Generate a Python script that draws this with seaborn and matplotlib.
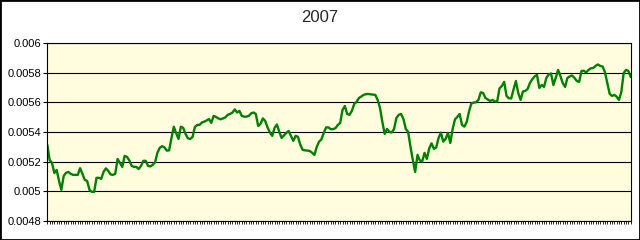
import numpy as np
import pandas as pd
import seaborn as sns
import matplotlib
matplotlib.use("Agg")
import matplotlib.pyplot as plt
from matplotlib.patches import Rectangle

sns.set_style("white")
plt.rcParams['font.family'] = ['Liberation Sans', 'DejaVu Sans']

title = "2007"
ytick_values = [0.0048, 0.005, 0.0052, 0.0054, 0.0056, 0.0058, 0.006]
ytick_labels = ["0.0048", "0.005", "0.0052", "0.0054", "0.0056", "0.0058", "0.006"]

rates = [
    0.005313, 0.005211, 0.005191, 0.005123, 0.005143, 0.005070, 0.005009, 0.005103, 0.005124, 0.005130,
    0.005117, 0.005110, 0.005110, 0.005110, 0.005155, 0.005117, 0.005076, 0.005069, 0.005009, 0.004995,
    0.004995, 0.005090, 0.005090, 0.005083, 0.005130, 0.005154, 0.005137, 0.005113, 0.005110, 0.005117,
    0.005218, 0.005191, 0.005164, 0.005238, 0.005232, 0.005208, 0.005171, 0.005164, 0.005164, 0.005150,
    0.005171, 0.005205, 0.005205, 0.005171, 0.005167, 0.005178, 0.005195, 0.005259, 0.005293, 0.005304,
    0.005296, 0.005274, 0.005276, 0.005360, 0.005436, 0.005391, 0.005353, 0.005436, 0.005428, 0.005387,
    0.005357, 0.005353, 0.005367, 0.005434, 0.005448, 0.005448, 0.005465, 0.005470, 0.005478, 0.005488,
    0.005462, 0.005509, 0.005502, 0.005492, 0.005486, 0.005492, 0.005499, 0.005516, 0.005522, 0.005531,
    0.005553, 0.005532, 0.005543, 0.005509, 0.005504, 0.005504, 0.005509, 0.005526, 0.005532, 0.005522,
    0.005441, 0.005455, 0.005492, 0.005475, 0.005431, 0.005396, 0.005374, 0.005428, 0.005451, 0.005401,
    0.005360, 0.005377, 0.005394, 0.005407, 0.005374, 0.005340, 0.005374, 0.005367, 0.005313, 0.005279,
    0.005276, 0.005274, 0.005272, 0.005260, 0.005245, 0.005299, 0.005335, 0.005350, 0.005394, 0.005431,
    0.005431, 0.005419, 0.005419, 0.005426, 0.005448, 0.005461, 0.005549, 0.005576, 0.005522, 0.005516,
    0.005543, 0.005590, 0.005604, 0.005630, 0.005640, 0.005651, 0.005656, 0.005657, 0.005655, 0.005653,
    0.005651, 0.005617, 0.005563, 0.005468, 0.005387, 0.005421, 0.005401, 0.005397, 0.005421, 0.005495,
    0.005516, 0.005522, 0.005488, 0.005421, 0.005401, 0.005301, 0.005211, 0.005130, 0.005245, 0.005208,
    0.005200, 0.005259, 0.005218, 0.005289, 0.005323, 0.005286, 0.005296, 0.005360, 0.005396, 0.005335,
    0.005353, 0.005394, 0.005326, 0.005421, 0.005485, 0.005502, 0.005522, 0.005448, 0.005436, 0.005468,
    0.005539, 0.005593, 0.005599, 0.005601, 0.005617, 0.005668, 0.005664, 0.005630, 0.005620, 0.005610,
    0.005617, 0.005607, 0.005605, 0.005695, 0.005711, 0.005739, 0.005644, 0.005628, 0.005627, 0.005688,
    0.005745, 0.005664, 0.005617, 0.005674, 0.005678, 0.005691, 0.005732, 0.005757, 0.005776, 0.005786,
    0.005698, 0.005718, 0.005705, 0.005766, 0.005789, 0.005796, 0.005718, 0.005766, 0.005820, 0.005779,
    0.005730, 0.005705, 0.005766, 0.005776, 0.005782, 0.005766, 0.005745, 0.005739, 0.005813, 0.005814,
    0.005803, 0.005820, 0.005831, 0.005833, 0.005847, 0.005857, 0.005847, 0.005843, 0.005806, 0.005732,
    0.005659, 0.005644, 0.005651, 0.005639, 0.005617, 0.005671, 0.005799, 0.005820, 0.005813, 0.005772,
]

df = pd.DataFrame({"day": np.arange(len(rates)), "rate": rates})

fig = plt.figure(figsize=(6.4, 2.4), dpi=100)
ax = fig.add_axes([47.3 / 640, 19.3 / 240, 583.4 / 640, 177.4 / 240])
ax.set_facecolor("#FFFDDE")
ax.set_axisbelow(True)
sns.lineplot(data=df, x="day", y="rate", ax=ax, color="#008000", linewidth=1.7)
ax.set_xlim(0, len(rates) - 1)
ax.set_ylim(ytick_values[0], ytick_values[-1])
ax.set_yticks(ytick_values)
ax.set_yticklabels(ytick_labels)
ax.set_xticks(df["day"])
ax.set_xticklabels([])
ax.grid(axis="y", color="black", linewidth=0.8)
ax.grid(axis="x", visible=False)
ax.tick_params(axis="y", direction="out", length=3, width=0.8, pad=1.5,
               labelsize=8, left=True, colors="black")
ax.tick_params(axis="x", direction="out", length=2.5, width=0.6, bottom=True, colors="black")
for s in ax.spines.values():
    s.set_visible(True)
    s.set_color("black")
    s.set_linewidth(0.8)
ax.set_xlabel("")
ax.set_ylabel("")
fig.text(0.5, 1 - 17 / 240, title, ha="center", va="center", fontsize=12)
fig.patches.append(Rectangle((0, 0), 1, 1, transform=fig.transFigure, fill=False,
                             edgecolor="black", linewidth=2))
fig.savefig("out.png", dpi=100)
